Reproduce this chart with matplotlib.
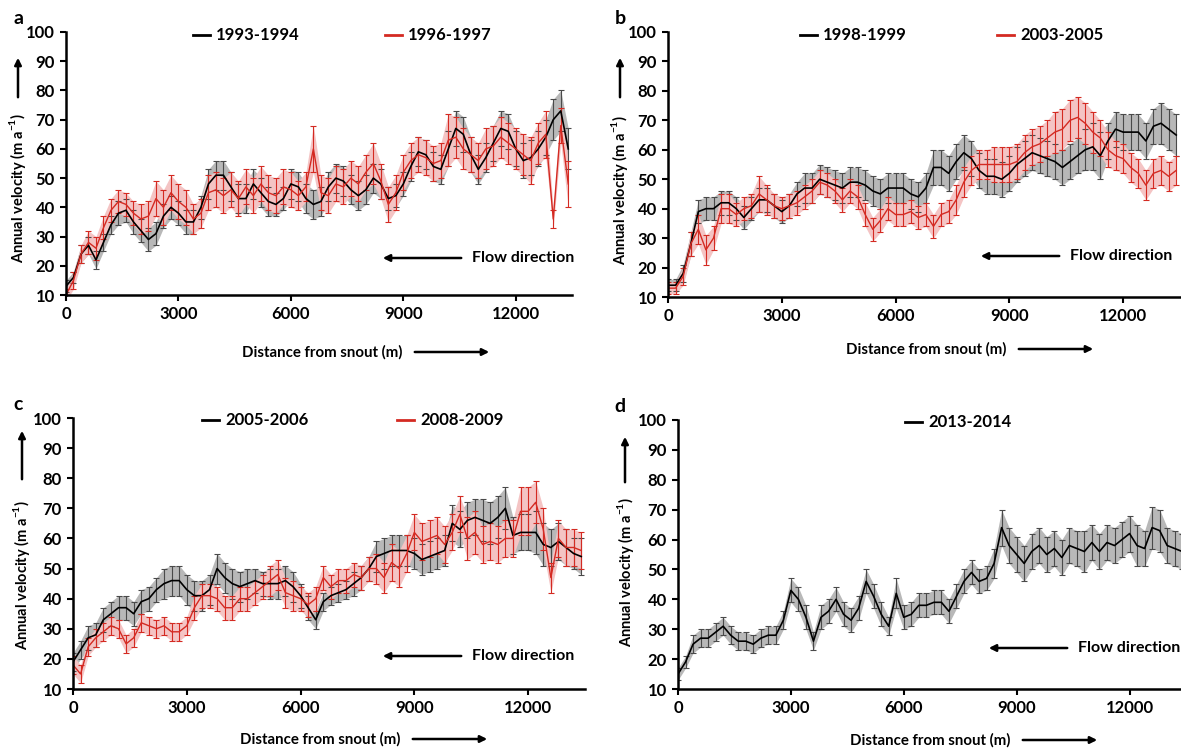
import numpy as np
import matplotlib
matplotlib.use("Agg")
import matplotlib.pyplot as plt

plt.rcParams["font.family"] = ["Lato", "DejaVu Sans"]
plt.rcParams["font.weight"] = "bold"
plt.rcParams["mathtext.fontset"] = "custom"
plt.rcParams["mathtext.rm"] = "Lato:bold"
plt.rcParams["mathtext.bf"] = "Lato:bold"

W, H = 1181, 749

# distance from snout (m), one sample every 200 m
dist = np.arange(0, 13401, 200)

# panel a
a_1993 = [13, 16, 24, 27, 22, 28, 34, 38, 39, 35,
          32, 29, 31, 37, 40, 38, 35, 35, 40, 48,
          51, 51, 47, 43, 43, 48, 45, 42, 41, 43,
          48, 47, 43, 41, 42, 47, 50, 49, 46, 44,
          46, 50, 48, 43, 44, 48, 54, 59, 58, 54,
          53, 60, 67, 65, 58, 53, 57, 62, 67, 66,
          60, 56, 57, 60, 64, 70, 73, 60]
a_1993_err = [2, 2, 3, 3, 3, 3, 3, 4, 4, 4,
              4, 4, 4, 4, 4, 4, 4, 4, 4, 5,
              5, 5, 5, 5, 5, 5, 5, 5, 4, 4,
              5, 5, 5, 5, 5, 5, 5, 5, 5, 5,
              5, 5, 5, 4, 4, 4, 5, 5, 5, 5,
              5, 6, 6, 6, 6, 5, 5, 6, 6, 6,
              6, 6, 6, 6, 6, 7, 7, 7]
a_1996 = [10, 15, 24, 28, 26, 33, 39, 42, 41, 38,
          36, 37, 43, 40, 45, 42, 40, 36, 38, 45,
          46, 44, 46, 43, 47, 44, 48, 45, 44, 47,
          46, 44, 47, 60, 45, 44, 48, 47, 50, 48,
          52, 55, 49, 41, 45, 52, 56, 58, 57, 55,
          56, 63, 64, 60, 58, 56, 60, 61, 64, 62,
          60, 58, 56, 62, 65, 36, 68, 48]
a_1996_err = [2, 3, 3, 4, 4, 4, 4, 4, 4, 4,
              5, 5, 6, 6, 6, 6, 6, 5, 5, 6,
              6, 6, 6, 6, 6, 6, 6, 6, 6, 6,
              6, 5, 5, 8, 6, 6, 6, 6, 6, 6,
              6, 7, 6, 6, 6, 6, 6, 6, 6, 6,
              6, 9, 7, 7, 6, 6, 7, 7, 7, 7,
              7, 7, 8, 7, 8, 3, 6, 8]

# panel b
b_1998 = [14, 14, 18, 28, 39, 40, 40, 42, 42, 40,
          37, 40, 43, 43, 41, 39, 41, 45, 47, 47,
          50, 49, 48, 47, 49, 49, 48, 46, 45, 47,
          47, 47, 45, 44, 47, 54, 54, 52, 56, 59,
          57, 53, 51, 51, 50, 52, 55, 57, 59, 58,
          57, 56, 54, 56, 58, 60, 61, 58, 63, 67,
          66, 66, 66, 63, 68, 69, 67, 65]
b_1998_err = [2, 2, 3, 4, 4, 4, 4, 4, 4, 4,
              4, 4, 4, 4, 4, 4, 4, 4, 5, 5,
              5, 5, 5, 5, 5, 5, 5, 5, 5, 5,
              5, 5, 5, 5, 5, 6, 6, 6, 6, 6,
              6, 6, 6, 6, 6, 6, 6, 6, 6, 6,
              6, 6, 6, 6, 6, 7, 8, 8, 6, 6,
              6, 6, 6, 6, 6, 7, 7, 7]
b_2003 = [13, 13, 17, 28, 33, 26, 30, 40, 40, 38,
          40, 41, 45, 43, 41, 40, 41, 42, 44, 46,
          49, 48, 46, 43, 46, 44, 38, 33, 36, 40,
          38, 38, 39, 37, 38, 34, 38, 39, 43, 49,
          53, 55, 55, 55, 55, 55, 56, 59, 61, 62,
          64, 66, 67, 70, 71, 69, 66, 64, 60, 58,
          57, 54, 52, 48, 52, 53, 51, 53]
b_2003_err = [2, 2, 3, 4, 5, 5, 4, 5, 5, 4,
              4, 4, 6, 5, 4, 4, 4, 4, 4, 4,
              4, 4, 4, 4, 4, 4, 4, 4, 4, 4,
              4, 4, 4, 4, 4, 4, 4, 4, 5, 5,
              5, 5, 5, 6, 6, 6, 6, 6, 6, 6,
              6, 7, 7, 7, 7, 7, 7, 6, 6, 5,
              5, 5, 5, 5, 5, 5, 5, 5]

# panel c
c_2005 = [19, 23, 27, 28, 33, 35, 37, 37, 35, 39,
          40, 43, 45, 46, 46, 43, 41, 41, 43, 50,
          47, 45, 44, 45, 46, 45, 45, 45, 46, 44,
          41, 37, 33, 39, 41, 42, 43, 45, 47, 50,
          54, 55, 56, 56, 56, 55, 53, 54, 55, 56,
          65, 63, 66, 67, 66, 65, 67, 70, 61, 62,
          62, 62, 58, 57, 59, 57, 55, 54]
c_2005_err = [3, 3, 4, 4, 4, 4, 4, 4, 4, 4,
              4, 4, 5, 5, 5, 5, 5, 5, 5, 5,
              5, 5, 5, 5, 4, 4, 5, 5, 5, 5,
              4, 4, 3, 3, 3, 3, 3, 4, 4, 4,
              5, 5, 5, 5, 5, 5, 5, 5, 5, 5,
              6, 6, 6, 6, 7, 7, 7, 7, 6, 6,
              6, 7, 7, 6, 6, 6, 5, 6]
c_2008 = [18, 15, 24, 27, 29, 31, 30, 25, 27, 32,
          31, 30, 31, 29, 29, 31, 37, 41, 41, 40,
          37, 37, 40, 40, 42, 44, 46, 48, 42, 41,
          40, 38, 40, 47, 44, 46, 46, 48, 47, 50,
          50, 47, 52, 50, 55, 62, 59, 60, 61, 58,
          62, 68, 60, 62, 58, 59, 58, 60, 60, 69,
          69, 72, 63, 47, 60, 57, 57, 56]
c_2008_err = [3, 3, 3, 3, 3, 3, 3, 3, 3, 3,
              3, 3, 3, 3, 3, 3, 4, 4, 4, 4,
              4, 4, 4, 4, 4, 4, 5, 5, 5, 5,
              4, 4, 4, 4, 4, 4, 4, 4, 4, 4,
              5, 5, 6, 6, 6, 6, 6, 6, 6, 6,
              6, 6, 7, 7, 6, 6, 6, 6, 6, 8,
              8, 7, 7, 5, 6, 6, 6, 6]

# panel d
d_2013 = [15, 19, 25, 27, 27, 29, 31, 28, 26, 26,
          25, 27, 28, 28, 33, 43, 40, 34, 26, 34,
          36, 40, 35, 33, 37, 46, 41, 35, 31, 42,
          34, 35, 38, 38, 39, 39, 36, 41, 46, 49,
          46, 47, 52, 64, 58, 55, 52, 56, 58, 55,
          57, 54, 58, 57, 56, 59, 56, 59, 58, 60,
          62, 58, 57, 64, 63, 58, 57, 56]
d_2013_err = [2, 2, 3, 3, 3, 3, 3, 3, 3, 3,
              3, 3, 3, 3, 3, 4, 4, 4, 3, 4,
              4, 4, 4, 4, 4, 4, 4, 4, 3, 5,
              4, 4, 4, 4, 4, 4, 4, 4, 4, 4,
              4, 4, 5, 6, 6, 6, 6, 6, 6, 6,
              6, 6, 6, 6, 7, 6, 6, 6, 6, 6,
              6, 7, 6, 7, 7, 6, 6, 6]

RED = "#d42a22"


def fx(x):
    return x / W


def fy(y):
    return 1 - y / H


def arrow(x0, y0, x1, y1):
    fig.add_artist(matplotlib.patches.FancyArrowPatch(
        (fx(x0), fy(y0)), (fx(x1), fy(y1)), transform=fig.transFigure,
        arrowstyle="-|>", mutation_scale=10, lw=1.8, color="black"))


def series(ax, y, err, color, band, lw, ecol):
    y = np.array(y)
    err = np.array(err)
    ax.fill_between(dist, y - err, y + err, color=band, lw=0, zorder=1)
    ax.errorbar(dist, y, yerr=err, color=color, lw=lw, ecolor=ecol,
                elinewidth=0.8, capsize=2, capthick=0.8, zorder=2)


def panel(box, letter, letter_xy, series_list, legend_items, flow, ylab, xlab):
    l, t, r, b = box
    ax = fig.add_axes([fx(l), fy(b), (r - l) / W, (b - t) / H])
    for y, err, c in series_list:
        if c == "k":
            series(ax, y, err, "black", "#b8b8b8", 1.2, "#4a4a4a")
        else:
            series(ax, y, err, RED, "#f4c4c4", 1.0, RED)
    ax.set_xlim(0, 13500)
    ax.set_ylim(10, 100)
    ax.set_xticks([0, 3000, 6000, 9000, 12000])
    ax.set_yticks(range(10, 101, 10))
    for s in ["top", "right"]:
        ax.spines[s].set_visible(False)
    for s in ["left", "bottom"]:
        ax.spines[s].set_linewidth(1.8)
    ax.tick_params(direction="out", length=4, width=1.5, labelsize=12, pad=4)
    for lab in ax.get_xticklabels() + ax.get_yticklabels():
        lab.set_fontweight("bold")

    fig.text(fx(letter_xy[0]), fy(letter_xy[1]), letter, fontsize=14,
             fontweight="bold", ha="center", va="center")
    for x0, y0, label, c in legend_items:
        fig.add_artist(matplotlib.lines.Line2D(
            [fx(x0), fx(x0 + 17)], [fy(y0), fy(y0)],
            transform=fig.transFigure, color="black" if c == "k" else RED, lw=2))
        fig.text(fx(x0 + 23), fy(y0), label, fontsize=12, fontweight="bold",
                 ha="left", va="center")

    fx0, fy0 = flow
    arrow(fx0 - 8, fy0, fx0 - 92, fy0)
    fig.text(fx(fx0), fy(fy0), "Flow direction", fontsize=11.5,
             fontweight="bold", ha="left", va="center")

    yx, yc, ya0, ya1 = ylab
    fig.text(fx(yx), fy(yc), r"Annual velocity (m a$^{-1}$)", fontsize=10.5,
             fontweight="bold", rotation=90, ha="center", va="center")
    arrow(yx, ya0, yx, ya1)

    xx, xy = xlab
    fig.text(fx(xx), fy(xy), "Distance from snout (m)", fontsize=10.8,
             fontweight="bold", ha="left", va="center")
    arrow(xx + 170, xy, xx + 250, xy)
    return ax


fig = plt.figure(figsize=(W / 100, H / 100), dpi=100)

panel((66, 32, 572, 295), "a", (18, 18),
      [(a_1993, a_1993_err, "k"), (a_1996, a_1996_err, "r")],
      [(193, 35, "1993-1994", "k"), (385, 35, "1996-1997", "r")],
      (472, 258), (18, 188, 100, 55), (242, 352))

panel((668, 32, 1180, 297), "b", (620, 18),
      [(b_1998, b_1998_err, "k"), (b_2003, b_2003_err, "r")],
      [(800, 35, "1998-1999", "k"), (997, 35, "2003-2005", "r")],
      (1070, 256), (620, 190, 100, 55), (846, 349))

panel((73, 418, 585, 689), "c", (18, 404),
      [(c_2005, c_2005_err, "k"), (c_2008, c_2008_err, "r")],
      [(202, 420, "2005-2006", "k"), (397, 420, "2008-2009", "r")],
      (472, 656), (22, 575, 482, 428), (240, 739))

panel((678, 420, 1186, 689), "d", (620, 407),
      [(d_2013, d_2013_err, "k")],
      [(905, 422, "2013-2014", "k")],
      (1078, 648), (625, 572, 485, 434), (850, 740))

fig.savefig("out.png", dpi=100)
